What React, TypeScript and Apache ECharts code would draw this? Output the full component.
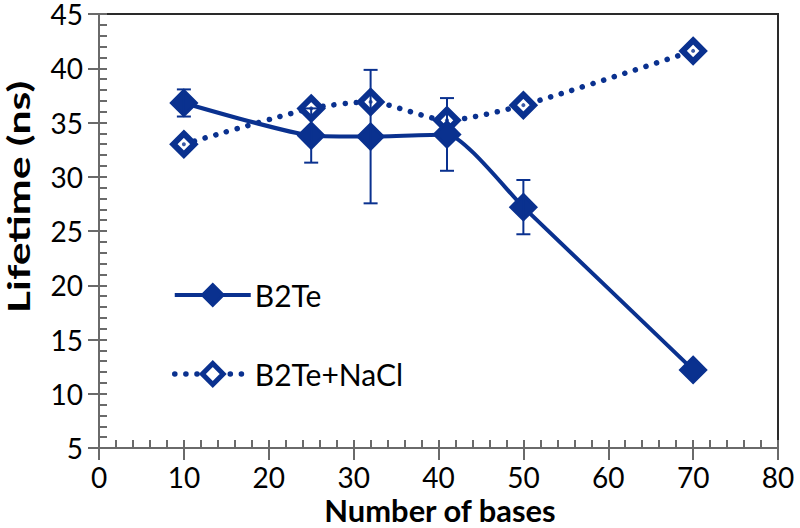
import React, { useEffect, useRef } from "react";
import * as echarts from "echarts";

const bases = [10, 25, 32, 41, 50, 70];
const b2te = [36.8, 33.8, 33.7, 33.9, 27.2, 12.2];
const b2teErr = [1.25, 2.5, 6.15, 3.35, 2.5, 0];
const b2teNaCl = [33.0, 36.3, 36.9, 35.2, 36.6, 41.6];

const xTicks = { min: 0, max: 80, interval: 10 };
const yTicks = { min: 5, max: 45, interval: 5 };

const NAVY = "#0A318F";
const AXIS = "#6a6a6a";
const FONT = "Lato";

export default function App() {
  const ref = useRef<HTMLDivElement>(null);
  useEffect(() => {
    if (!ref.current) return;
    const chart = echarts.init(ref.current, null, { renderer: "svg" });
    const errData = bases
      .map((x, i) => [x, b2te[i] - b2teErr[i], b2te[i] + b2teErr[i]])
      .filter((_, i) => b2teErr[i] > 0);
    const baseX = {
      type: "value",
      min: xTicks.min,
      max: xTicks.max,
      interval: xTicks.interval,
      position: "bottom",
      splitLine: { show: false },
    };
    const baseY = {
      type: "value",
      min: yTicks.min,
      max: yTicks.max,
      interval: yTicks.interval,
      position: "left",
      splitLine: { show: false },
    };
    const dotted = { color: NAVY, width: 5.5, type: [0.1, 11], cap: "round" };
    chart.setOption({
      animation: false,
      backgroundColor: "#fff",
      grid: {
        left: 99,
        right: 22,
        top: 14,
        bottom: 80,
        show: true,
        borderColor: "#2a2a2a",
        borderWidth: 2,
        backgroundColor: "transparent",
      },
      xAxis: [
        {
          ...baseX,
          axisLine: { show: true, lineStyle: { color: AXIS, width: 2 } },
          axisTick: { show: true, inside: false, length: 12, lineStyle: { color: AXIS, width: 2 } },
          axisLabel: {
            margin: 15,
            fontSize: 28,
            fontFamily: FONT,
            color: "#000",
          },
        },
        {
          ...baseX,
          axisLine: { show: false },
          axisTick: { show: true, inside: true, length: 8, lineStyle: { color: AXIS, width: 2 } },
          minorTick: { show: true, splitNumber: 5, length: 8, lineStyle: { color: AXIS, width: 2 } },
          axisLabel: { show: false },
        },
      ],
      yAxis: [
        {
          ...baseY,
          axisLine: { show: true, lineStyle: { color: AXIS, width: 2 } },
          axisTick: { show: true, inside: false, length: 11, lineStyle: { color: AXIS, width: 2 } },
          axisLabel: {
            margin: 16,
            fontSize: 28,
            lineHeight: 28,
            fontFamily: FONT,
            color: "#000",
          },
        },
        {
          ...baseY,
          axisLine: { show: false },
          axisTick: { show: true, inside: true, length: 8, lineStyle: { color: AXIS, width: 2 } },
          minorTick: { show: true, splitNumber: 5, length: 8, lineStyle: { color: AXIS, width: 2 } },
          axisLabel: { show: false },
        },
      ],
      legend: {
        left: 172,
        top: 280,
        padding: 0,
        orient: "vertical",
        itemWidth: 76,
        itemHeight: 26,
        itemGap: 49,
        textStyle: { fontSize: 30, fontFamily: FONT, color: "#000", padding: [0, 0, 0, -1] },
        data: [
          {
            name: "B2Te",
            itemStyle: { color: NAVY, borderColor: NAVY, borderWidth: 3 },
            lineStyle: { color: NAVY, width: 4, type: "solid" },
          },
          {
            name: "B2Te+NaCl",
            itemStyle: { color: "#fff", borderColor: NAVY, borderWidth: 5 },
            lineStyle: dotted,
          },
        ],
      },
      graphic: [
        {
          type: "text",
          x: 18,
          y: 197,
          rotation: Math.PI / 2,
          scaleX: 1.38,
          style: {
            text: "Lifetime (ns)",
            fontSize: 31,
            fontWeight: "bold",
            fontFamily: FONT,
            fill: "#000",
            align: "center",
            verticalAlign: "middle",
          },
        },
        {
          type: "text",
          x: 440,
          y: 510,
          scaleX: 1.03,
          style: {
            text: "Number of bases",
            fontSize: 30,
            fontWeight: "bold",
            fontFamily: FONT,
            fill: "#000",
            align: "center",
            verticalAlign: "middle",
          },
        },
      ],
      series: [
        {
          name: "B2Te+NaCl",
          type: "line",
          xAxisIndex: 0,
          yAxisIndex: 0,
          data: bases.map((x, i) => [x, b2teNaCl[i]]),
          smooth: 0.22,
          symbol: "diamond",
          symbolSize: 21,
          lineStyle: dotted,
          itemStyle: { color: "#fff", borderColor: NAVY, borderWidth: 6 },
          z: 2,
        },
        {
          name: "NaClDot",
          type: "scatter",
          xAxisIndex: 0,
          yAxisIndex: 0,
          data: bases.map((x, i) => [x, b2teNaCl[i]]),
          symbol: "circle",
          symbolSize: 4,
          itemStyle: { color: NAVY },
          z: 3,
        },
        {
          name: "B2Te",
          type: "line",
          xAxisIndex: 0,
          yAxisIndex: 0,
          data: bases.map((x, i) => [x, b2te[i]]),
          smooth: 0.18,
          symbol: "diamond",
          symbolSize: 25,
          lineStyle: { color: NAVY, width: 4 },
          itemStyle: { color: NAVY, borderColor: NAVY, borderWidth: 3 },
          z: 3,
        },
        {
          name: "err",
          type: "custom",
          xAxisIndex: 0,
          yAxisIndex: 0,
          data: errData,
          z: 4,
          renderItem: (params: any, api: any) => {
            const x = api.value(0);
            const lo = api.coord([x, api.value(1)]);
            const hi = api.coord([x, api.value(2)]);
            const w = 7;
            const style = { stroke: NAVY, lineWidth: 2 };
            return {
              type: "group",
              children: [
                { type: "line", shape: { x1: lo[0], y1: lo[1], x2: hi[0], y2: hi[1] }, style },
                { type: "line", shape: { x1: lo[0] - w, y1: lo[1], x2: lo[0] + w, y2: lo[1] }, style },
                { type: "line", shape: { x1: hi[0] - w, y1: hi[1], x2: hi[0] + w, y2: hi[1] }, style },
              ],
            };
          },
        },
      ],
    });
    return () => chart.dispose();
  }, []);
  return <div ref={ref} style={{ width: 800, height: 528, position: "absolute", left: 0, top: 0 }} />;
}
